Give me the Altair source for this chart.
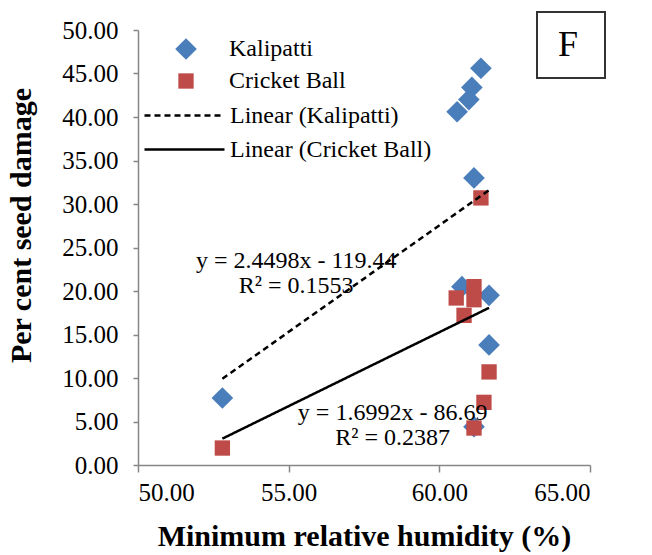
import altair as alt
import pandas as pd

# ---- data ----
kal_x = [52.80, 60.59, 60.98, 61.08, 61.38, 61.15, 60.75, 61.65, 61.65, 61.15]
kal_y = [7.7, 40.6, 42.0, 43.4, 45.6, 33.0, 20.5, 19.5, 13.8, 4.4]
cb_x = [52.80, 61.38, 60.56, 61.15, 61.15, 60.82, 61.65, 61.48, 61.15]
cb_y = [1.95, 30.7, 19.2, 20.5, 19.0, 17.2, 10.7, 7.2, 4.25]

series_names = ["Kalipatti", "Cricket Ball"]
trend_names = ["Linear (Kalipatti)", "Linear (Cricket Ball)"]
slopes = [2.4498, 1.6992]
intercepts = [-119.44, -86.69]
eq_labels = [["y = 2.4498x - 119.44", "R\u00b2 = 0.1553"],
             ["y = 1.6992x - 86.69", "R\u00b2 = 0.2387"]]
eq_anchor_x = [55.25, 58.45]
eq_anchor_y = [23.4, 5.95]

FONT = "Liberation Serif"

pts = pd.DataFrame(
    [{"x": x, "y": y, "series": series_names[0]} for x, y in zip(kal_x, kal_y)]
    + [{"x": x, "y": y, "series": series_names[1]} for x, y in zip(cb_x, cb_y)]
)

xs_all = [kal_x, cb_x]
trend_frames = []
for i in range(2):
    rows = [{"x": xv, "y": slopes[i] * xv + intercepts[i], "trend": trend_names[i]}
            for xv in (min(xs_all[i]), max(xs_all[i]))]
    trend_frames.append(pd.DataFrame(rows))

eqs = pd.DataFrame([{"x": eq_anchor_x[i], "y": eq_anchor_y[i], "label": eq_labels[i]}
                    for i in range(2)])

xscale = alt.Scale(domain=[50, 65], nice=False, zero=False)
yscale = alt.Scale(domain=[0, 50], nice=False)
xaxis = alt.Axis(title="Minimum relative humidity (%)", values=[50, 55, 60, 65],
                 format=".2f", tickSize=7, labelPadding=8, titlePadding=16)
yaxis = alt.Axis(title="Per cent seed damage", values=list(range(0, 51, 5)),
                 format=".2f", tickSize=5, labelPadding=15, titlePadding=25,
                 titleY=195)

pt_legend = alt.Legend(title=None, orient="none", legendX=36, legendY=7,
                       labelOffset=31, rowPadding=8, padding=0)

points = alt.Chart(pts).mark_point(filled=True, opacity=1).encode(
    x=alt.X("x:Q", scale=xscale, axis=xaxis),
    y=alt.Y("y:Q", scale=yscale, axis=yaxis),
    color=alt.Color("series:N", scale=alt.Scale(domain=series_names,
                    range=["#4a7ebb", "#be4b48"]), legend=pt_legend),
    shape=alt.Shape("series:N", scale=alt.Scale(domain=series_names,
                    range=["diamond", "square"]), legend=pt_legend),
    size=alt.Size("series:N", scale=alt.Scale(domain=series_names, range=[470, 235]),
                  legend=pt_legend),
)

dashes = [[6, 4], [1, 0]]
legend_tops = [44, 78]
line_layers = []
for i in range(2):
    line_layers.append(
        alt.Chart(trend_frames[i]).mark_line(color="black", strokeWidth=2.5).encode(
            x=alt.X("x:Q", scale=xscale),
            y=alt.Y("y:Q", scale=yscale),
            strokeDash=alt.StrokeDash(
                "trend:N",
                scale=alt.Scale(domain=[trend_names[i]], range=[dashes[i]]),
                legend=alt.Legend(title=None, orient="none", legendX=5,
                                  legendY=legend_tops[i], symbolType="stroke",
                                  symbolSize=6400, symbolStrokeWidth=2.5,
                                  symbolStrokeColor="black",
                                  labelOffset=4, padding=0)),
        )
    )

texts = alt.Chart(eqs).mark_text(font=FONT, fontSize=24, color="black",
                                 lineHeight=25, align="center", baseline="middle").encode(
    x=alt.X("x:Q", scale=xscale),
    y=alt.Y("y:Q", scale=yscale),
    text="label",
)

box = alt.Chart(pd.DataFrame({"k": [0]})).mark_rect(
    fill="white", stroke="#333333", strokeWidth=2, clip=False).encode(
    x=alt.value(399), x2=alt.value(467), y=alt.value(-18), y2=alt.value(48))
letter = alt.Chart(pd.DataFrame({"t": ["F"]})).mark_text(
    font=FONT, fontSize=36, color="black", align="center", baseline="middle").encode(
    x=alt.value(430), y=alt.value(15), text="t:N")

chart = alt.layer(points, *line_layers, texts, box, letter).properties(
    width=452, height=435,
    autosize=alt.AutoSizeParams(type="none"),
    padding={"left": 138, "top": 30, "right": 62, "bottom": 90},
    background="white",
).configure_view(stroke=None).configure_axis(
    grid=False, domainColor="#868686", tickColor="#868686", domainWidth=1.5,
    tickWidth=1.5, labelFont=FONT, labelFontSize=25, labelColor="black",
    titleFont=FONT, titleFontSize=30, titleFontWeight="bold", titleColor="black",
).configure_legend(
    labelFont=FONT, labelFontSize=24, labelColor="black", labelLimit=400,
).resolve_scale(strokeDash="independent")

chart.save("out.html", embed_options={"renderer": "svg", "actions": False})
